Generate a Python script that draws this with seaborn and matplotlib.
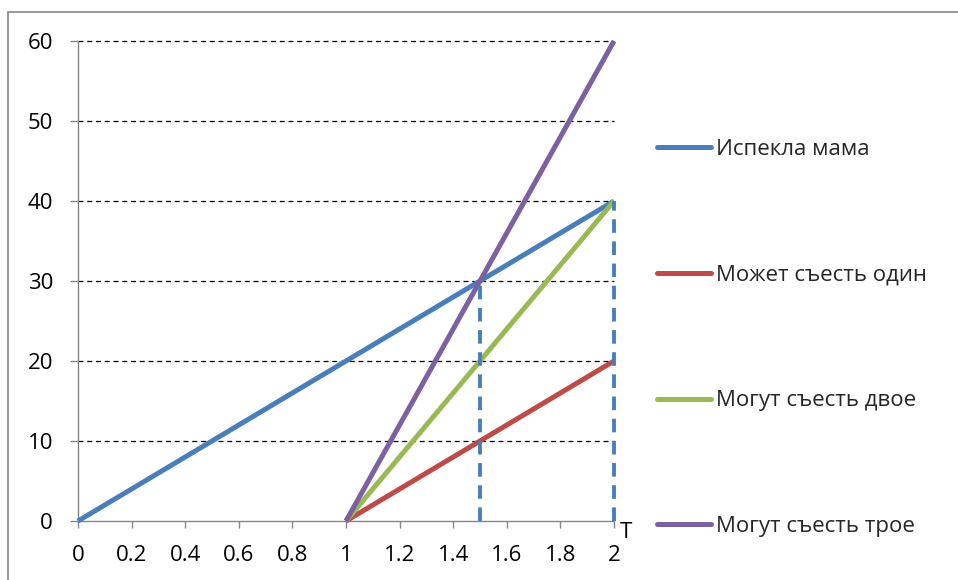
import matplotlib
matplotlib.use("Agg")
import matplotlib.pyplot as plt
import matplotlib.patches as mpatches
import numpy as np
import pandas as pd
import seaborn as sns

# Series: time T on the x axis, number of pies on the y axis
series_names = ["Испекла мама", "Может съесть один", "Могут съесть двое", "Могут съесть трое"]
mama_x = [0, 2]
mama_y = [0, 40]
one_x = [1, 2]
one_y = [0, 20]
two_x = [1, 2]
two_y = [0, 40]
three_x = [1, 2]
three_y = [0, 60]

# Drop lines marking the moments of interest
drop_x = [1.5, 2]
drop_y = [30, 40]

x_ticks = [0, 0.2, 0.4, 0.6, 0.8, 1, 1.2, 1.4, 1.6, 1.8, 2]
x_tick_labels = ["0", "0.2", "0.4", "0.6", "0.8", "1", "1.2", "1.4", "1.6", "1.8", "2"]
y_ticks = [0, 10, 20, 30, 40, 50, 60]
axis_label = "T"

colors = ["#4A7EBB", "#BE4B48", "#98B954", "#7D60A0"]

sns.set_theme(style="white")
plt.rcParams["font.family"] = ["Open Sans", "DejaVu Sans"]
plt.rcParams["font.size"] = 16

frames = []
for name, xs, ys in zip(series_names,
                        [mama_x, one_x, two_x, three_x],
                        [mama_y, one_y, two_y, three_y]):
    frames.append(pd.DataFrame({"T": xs, "N": ys, "series": name}))
df = pd.concat(frames, ignore_index=True)

fig = plt.figure(figsize=(9.58, 5.80), dpi=100)
ax = fig.add_axes([78 / 958, 1 - 521 / 580, (614 - 78) / 958, (521 - 41) / 580])

sns.lineplot(data=df, x="T", y="N", hue="series", hue_order=series_names,
             palette=colors, linewidth=3.6, ax=ax, legend=True, zorder=3)
for ln in ax.get_lines():
    ln.set_clip_on(False)
    ln.set_solid_capstyle("butt")

# Horizontal dashed gridlines
for y in y_ticks[1:]:
    ax.plot([0, 2], [y, y], color="black", linewidth=0.9, linestyle=(0, (4, 3)),
            zorder=1, clip_on=False)

# Vertical dashed drop lines
ax.vlines(drop_x, 0, drop_y, colors="#4A7EBB", linewidth=2.8,
          linestyles=(0, (3.5, 2.2)), zorder=4, clip_on=False)

ax.set_xlim(0, 2)
ax.set_ylim(0, 60)
ax.set_xticks(x_ticks)
ax.set_xticklabels(x_tick_labels)
ax.set_yticks(y_ticks)
ax.set_xlabel("")
ax.set_ylabel("")

for side in ["top", "right"]:
    ax.spines[side].set_visible(False)
for side in ["left", "bottom"]:
    ax.spines[side].set_color("#868686")
    ax.spines[side].set_linewidth(1.0)

ax.tick_params(axis="x", which="both", direction="out", length=5, width=1,
               color="#868686", pad=12, labelsize=16, labelcolor="black", bottom=True)
ax.tick_params(axis="y", which="both", direction="out", length=6, width=1,
               color="#868686", pad=12, labelsize=16, labelcolor="black", left=True)

ax.text(2.02, -0.1, axis_label, ha="left", va="top", fontsize=16, color="black")

handles, labels = ax.get_legend_handles_labels()
leg = ax.legend(handles, labels, loc="upper left", bbox_to_anchor=(657 / 958, 1 - 139 / 580),
                bbox_transform=fig.transFigure, frameon=False, handlelength=2.45,
                handletextpad=0.2, labelspacing=4.71, fontsize=16, borderaxespad=0,
                borderpad=0)
for h in leg.get_lines():
    h.set_linewidth(3.6)
    h.set_solid_capstyle("round")

# Chart area border
fig.patches.append(mpatches.Rectangle((8 / 958, -0.2), 1.2, 0.2 + 1 - 12 / 580,
                                      transform=fig.transFigure, fill=False,
                                      edgecolor="#868686", linewidth=1.2))

fig.savefig("out.png", dpi=100)
